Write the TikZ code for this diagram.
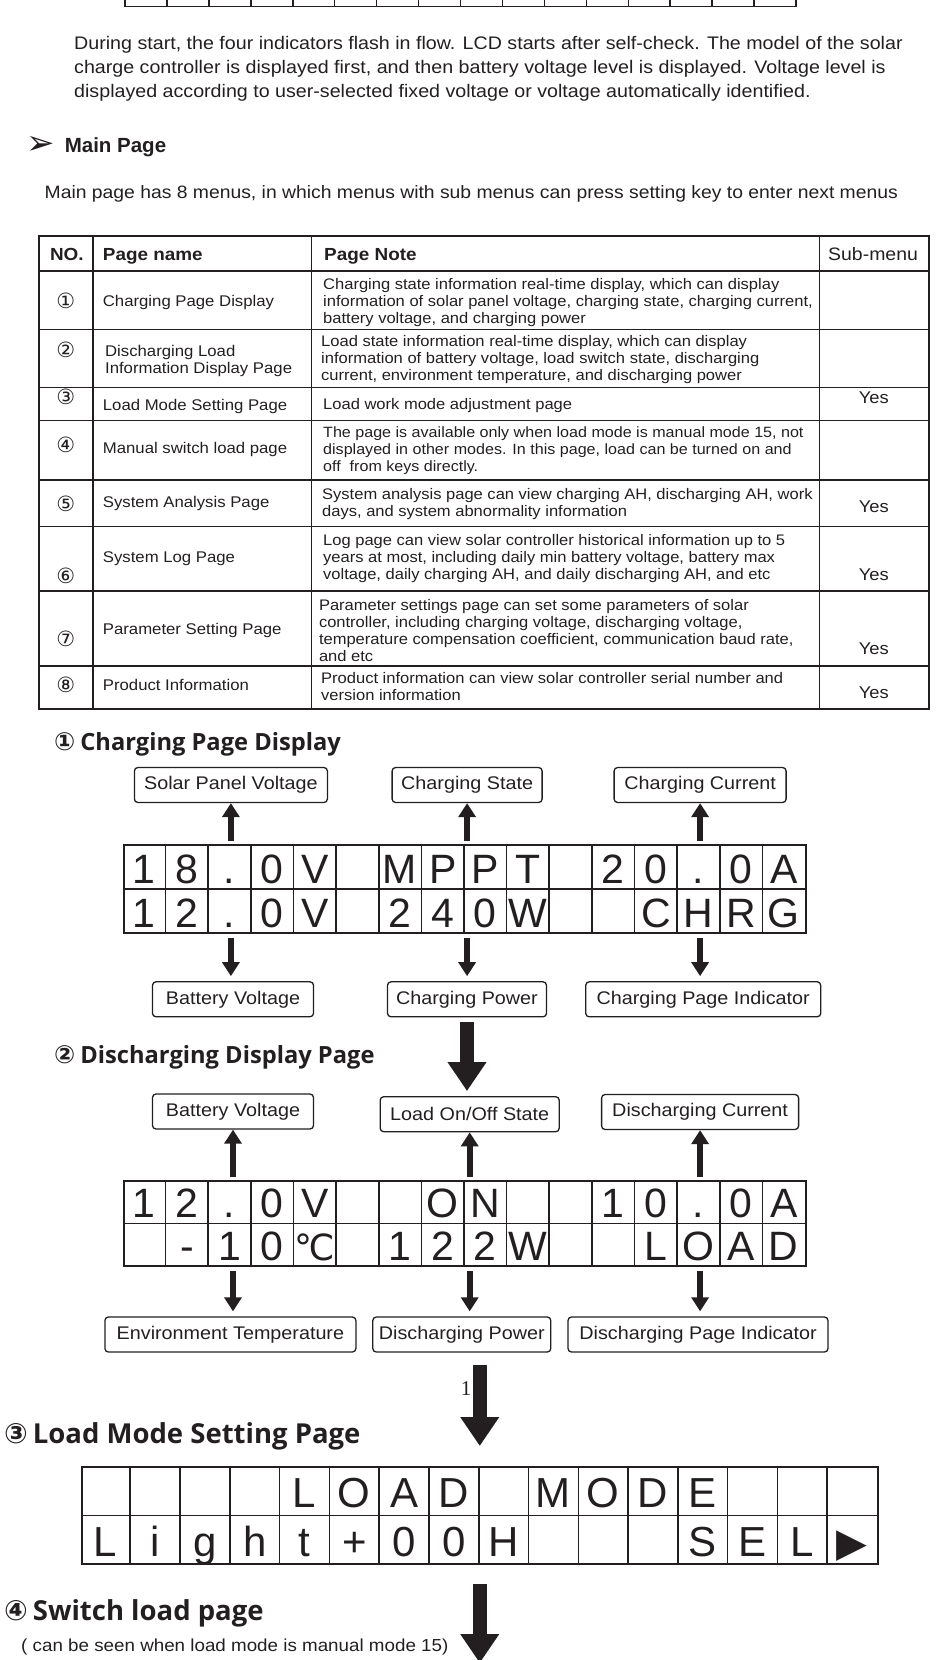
\documentclass[tikz,border=0pt]{standalone}
\usepackage{fontspec}
\setmainfont{Liberation Sans}[FakeStretch=1.08]
\newfontfamily\headfont{Open Sans}
\newfontfamily\plainsans{Liberation Sans}
\newfontfamily\symfont{DejaVu Sans}
\newfontfamily\numfont{Liberation Serif}
\usetikzlibrary{arrows.meta,calc,positioning}
\definecolor{ink}{HTML}{231F20}
\newcommand\lcddeg{{\symfont\fontsize{36}{36}\selectfont ℃}}
\newcommand\lcdtri{{\symfont\fontsize{40}{40}\selectfont ▶}}
\newcommand\hnum[2][25]{{\symfont\fontsize{#1}{#1}\selectfont #2}\hspace{5pt}}

\begin{document}
\begin{tikzpicture}[x=1pt, y=-1pt, color=ink,
  txt/.style={anchor=base west, inner sep=0pt, align=left},
  body/.style={txt, font=\fontsize{15.3}{17}\selectfont},
  pname/.style={txt, font=\fontsize{15.5}{17}\selectfont},
  circnum/.style={inner sep=0pt, font=\symfont\fontsize{21}{21}\selectfont},
  yes/.style={anchor=base, inner sep=0pt, font=\fontsize{17}{17}\selectfont},
  hdr/.style={txt, font=\bfseries\fontsize{17.5}{17.5}\selectfont},
  sechead/.style={txt, font=\headfont\bfseries\fontsize{23.7}{23.7}\selectfont},
  bighead/.style={txt, font=\headfont\bfseries\fontsize{27.5}{27.5}\selectfont},
  lbl/.style={draw, line width=1.3pt, rounded corners=3.5pt, minimum height=35pt, inner sep=0pt, font=\fontsize{18.3}{20}\selectfont},
  lcdframe/.style={draw, line width=2pt, inner sep=0pt},
  lcdgrid/.style={line width=1.6pt},
  lcdchar/.style={anchor=base, inner sep=0pt, font=\plainsans\fontsize{41}{41}\selectfont},
  thinarrow/.style={line width=6pt, -{Triangle[length=14pt,width=17pt]}},
  bigarrow/.style={line width=14pt, -{Triangle[length=29pt,width=37pt]}}]

\useasboundingbox (0,0) rectangle (950,1660);

% bottom of the previous table
\draw[line width=1.8pt] (125,6.5) -- (796,6.5);
\foreach \i in {0,...,16}
  \draw[line width=1.5pt] (125+\i*41.94,-2) -- (125+\i*41.94,6.5);

% multi-line nodes: base = last line
\node[txt, font=\fontsize{18.2}{24.4}\selectfont] (intro) at (74,97.8) {During start, the four indicators flash in flow. LCD starts after self-check. The model of the solar\\
charge controller is displayed first, and then battery voltage level is displayed. Voltage level is\\
displayed according to user-selected fixed voltage or voltage automatically identified.};

% Main page
\node[inner sep=0pt, font=\symfont\fontsize{34}{34}\selectfont] (mark) at (40.5,145.5) {➢};
\node[txt, font=\plainsans\bfseries\fontsize{20.5}{20.5}\selectfont] (mainhd) at (64.6,152.5) {Main Page};
\node[txt, font=\fontsize{17.9}{17.9}\selectfont] (mainnote) at (44.5,198.1) {Main page has 8 menus, in which menus with sub menus can press setting key to enter next menus};

% table of pages
\draw[line width=2pt] (39.2,236.2) rectangle (928.8,708.5);
\foreach \y in {271.1,329.4,387.6,420.5,479.8,526.4,591,666.2}
  \draw[line width=1.5pt] (39.2,\y) -- (928.8,\y);
\foreach \x in {93.2,311.4,819.7}
  \draw[line width=1.5pt] (\x,236.2) -- (\x,708.5);

\node[hdr] (hno) at (49.8,260.5) {NO.};
\node[hdr] (hname) at (102.7,260.5) {Page name};
\node[hdr] (hnote) at (324,260.5) {Page Note};
\node[txt, font=\fontsize{18}{18}\selectfont] (hsub) at (828,260.7) {Sub-menu};

\node[circnum] (n1) at (65.7,300.8) {①};
\node[circnum] (n2) at (65.7,349.5) {②};
\node[circnum] (n3) at (65.7,397.2) {③};
\node[circnum] (n4) at (65.7,444.8) {④};
\node[circnum] (n5) at (65.7,504) {⑤};
\node[circnum] (n6) at (65.7,576) {⑥};
\node[circnum] (n7) at (65.7,638.6) {⑦};
\node[circnum] (n8) at (65.7,685) {⑧};

\node[pname] (p1) at (102.7,306.4) {Charging Page Display};
\node[pname] (p2) at (104.9,373.2) {Discharging Load\\ Information Display Page};
\node[pname] (p3) at (102.7,410.2) {Load Mode Setting Page};
\node[pname] (p4) at (102.7,453.6) {Manual switch load page};
\node[pname] (p5) at (102.7,507.6) {System Analysis Page};
\node[pname] (p6) at (102.7,562.6) {System Log Page};
\node[pname] (p7) at (102.7,634.6) {Parameter Setting Page};
\node[pname] (p8) at (102.7,690.6) {Product Information};

\node[body] (t1) at (323,323.3) {Charging state information real-time display, which can display\\
information of solar panel voltage, charging state, charging current,\\
battery voltage, and charging power};
\node[body] (t2) at (321,380.5) {Load state information real-time display, which can display\\
information of battery voltage, load switch state, discharging\\
current, environment temperature, and discharging power};
\node[body] (t3) at (323,409) {Load work mode adjustment page};
\node[body, font=\fontsize{14.9}{17}\selectfont] (t4) at (323,471.6) {The page is available only when load mode is manual mode 15, not\\
displayed in other modes. In this page, load can be turned on and\\
off\ \ from keys directly.};
\node[body] (t5) at (322,516) {System analysis page can view charging AH, discharging AH, work\\
days, and system abnormality information};
\node[body] (t6) at (323,579.5) {Log page can view solar controller historical information up to 5\\
years at most, including daily min battery voltage, battery max\\
voltage, daily charging AH, and daily discharging AH, and etc};
\node[body] (t7) at (318.8,661.2) {Parameter settings page can set some parameters of solar\\
controller, including charging voltage, discharging voltage,\\
temperature compensation coefficient, communication baud rate,\\
and etc};
\node[body] (t8) at (321,700.3) {Product information can view solar controller serial number and\\
version information};

\node[yes] (y3) at (873.8,403.3) {Yes};
\node[yes] (y5) at (873.8,512.1) {Yes};
\node[yes] (y6) at (873.8,580.1) {Yes};
\node[yes] (y7) at (873.8,654.1) {Yes};
\node[yes] (y8) at (873.8,698.7) {Yes};

% 1 Charging page
\node[sechead] (h1) at (54,750.5) {\hnum{①}Charging Page Display};
\node[lbl, minimum width=193pt] (spv) at (230.9,785) {Solar Panel Voltage};
\node[lbl, minimum width=150pt] (cs) at (467.1,785) {Charging State};
\node[lbl, minimum width=172pt] (cc) at (700.1,785) {Charging Current};

\node[lcdframe, minimum width=682pt, minimum height=88pt] (lcdA) at (465,889) {};
\foreach \i in {1,...,15}
  \draw[lcdgrid] ($(lcdA.north west)+(\i*42.625,0)$) -- ($(lcdA.south west)+(\i*42.625,0)$);
\draw[lcdgrid] (lcdA.west) -- (lcdA.east);
\foreach \c [count=\i] in {1,8,.,0,V,{},M,P,P,T,{},2,0,.,0,A}
  \node[lcdchar] (a1-\i) at ($(lcdA.north west)+(\i*42.625-21.31,39)$) {\c};
\foreach \c [count=\i] in {1,2,.,0,V,{},2,4,0,W,{},{},C,H,R,G}
  \node[lcdchar] (a2-\i) at ($(lcdA.north west)+(\i*42.625-21.31,83)$) {\c};

\node[lbl, minimum width=161pt] (bv) at (233,999.3) {Battery Voltage};
\node[lbl, minimum width=159pt] (cp) at (467,999.3) {Charging Power};
\node[lbl, minimum width=235pt] (cpi) at (703.2,999.3) {Charging Page Indicator};

\foreach \b/\e in {spv/bv, cs/cp, cc/cpi} {
  \draw[thinarrow] ($(lcdA.north -| \b)+(0,-3)$) -- (\b.south);
  \draw[thinarrow] ($(lcdA.south -| \b)+(0,4)$) -- ($(\e.north -| \b)+(0,-5)$);
}

% 2 Discharging page
\node[sechead] (h2) at (54,1063) {\hnum{②}Discharging Display Page};
\node[lbl, minimum width=161pt] (bvB) at (233,1111.5) {Battery Voltage};
\node[lbl, minimum width=179pt] (los) at (469.7,1114.2) {Load On/Off State};
\node[lbl, minimum width=197pt] (dc) at (700.1,1112) {Discharging Current};

\draw[bigarrow] ($(cp.south)+(0,5)$) -- ($(los.north -| cp)+(0,-5)$);

\node[lcdframe, minimum width=682pt, minimum height=85pt] (lcdB) at (465,1223.5) {};
\foreach \i in {1,...,15}
  \draw[lcdgrid] ($(lcdB.north west)+(\i*42.625,0)$) -- ($(lcdB.south west)+(\i*42.625,0)$);
\draw[lcdgrid] (lcdB.west) -- (lcdB.east);
\foreach \c [count=\i] in {1,2,.,0,V,{},{},O,N,{},{},1,0,.,0,A}
  \node[lcdchar] (b1-\i) at ($(lcdB.north west)+(\i*42.625-21.31,37.5)$) {\c};
\foreach \c [count=\i] in {{},-,1,0,\lcddeg,{},1,2,2,W,{},{},L,O,A,D}
  \node[lcdchar] (b2-\i) at ($(lcdB.north west)+(\i*42.625-21.31,80)$) {\c};

\node[lbl, minimum width=251pt] (et) at (230.4,1334.5) {Environment Temperature};
\node[lbl, minimum width=178pt] (dp) at (461.8,1334.5) {Discharging Power};
\node[lbl, minimum width=260pt] (dpi) at (698,1334.5) {Discharging Page Indicator};

\foreach \b/\e in {bvB/et, los/dp, dc/dpi} {
  \draw[thinarrow] ($(lcdB.north -| \b)+(0,-3)$) -- (\b.south);
  \draw[thinarrow] ($(lcdB.south -| \b)+(0,4)$) -- ($(\e.north -| \b)+(0,-5)$);
}

% 3 Load mode setting page
\node[bighead] (h3) at (4,1443) {\hnum[28]{③}Load Mode Setting Page};

\node[lcdframe, minimum width=796.5pt, minimum height=97pt] (lcdC) at (479.75,1515.5) {};
\foreach \i in {1,...,15}
  \draw[lcdgrid] ($(lcdC.north west)+(\i*49.78,0)$) -- ($(lcdC.south west)+(\i*49.78,0)$);
\draw[lcdgrid] (lcdC.west) -- (lcdC.east);
\foreach \c [count=\i] in {{},{},{},{},L,O,A,D,{},M,O,D,E,{},{},{}}
  \node[lcdchar, font=\plainsans\fontsize{42}{42}\selectfont] (c1-\i) at ($(lcdC.north west)+(\i*49.78-24.89,41.5)$) {\c};
\foreach \c [count=\i] in {L,i,g,h,t,+,0,0,H,{},{},{},S,E,L,\lcdtri}
  \node[lcdchar, font=\plainsans\fontsize{42}{42}\selectfont] (c2-\i) at ($(lcdC.north west)+(\i*49.78-24.89,90)$) {\c};

\draw[bigarrow] ($(dp.south -| lcdC.north)+(0,12)$) -- ($(lcdC.north)+(0,-20)$);
\node[inner sep=0pt, font=\numfont\fontsize{21}{21}\selectfont] (one) at (466,1389) {1};

% 4 Switch load page
\node[bighead] (h4) at (4,1620.5) {\hnum[28]{④}Switch load page};
\node[txt, font=\fontsize{17.4}{17.4}\selectfont] (h4note) at (21,1651) {( can be seen when load mode is manual mode 15)};
\coordinate (pageend) at (479.75,1663);
\draw[bigarrow] ($(lcdC.south)+(0,19)$) -- (pageend);

\end{tikzpicture}
\end{document}
